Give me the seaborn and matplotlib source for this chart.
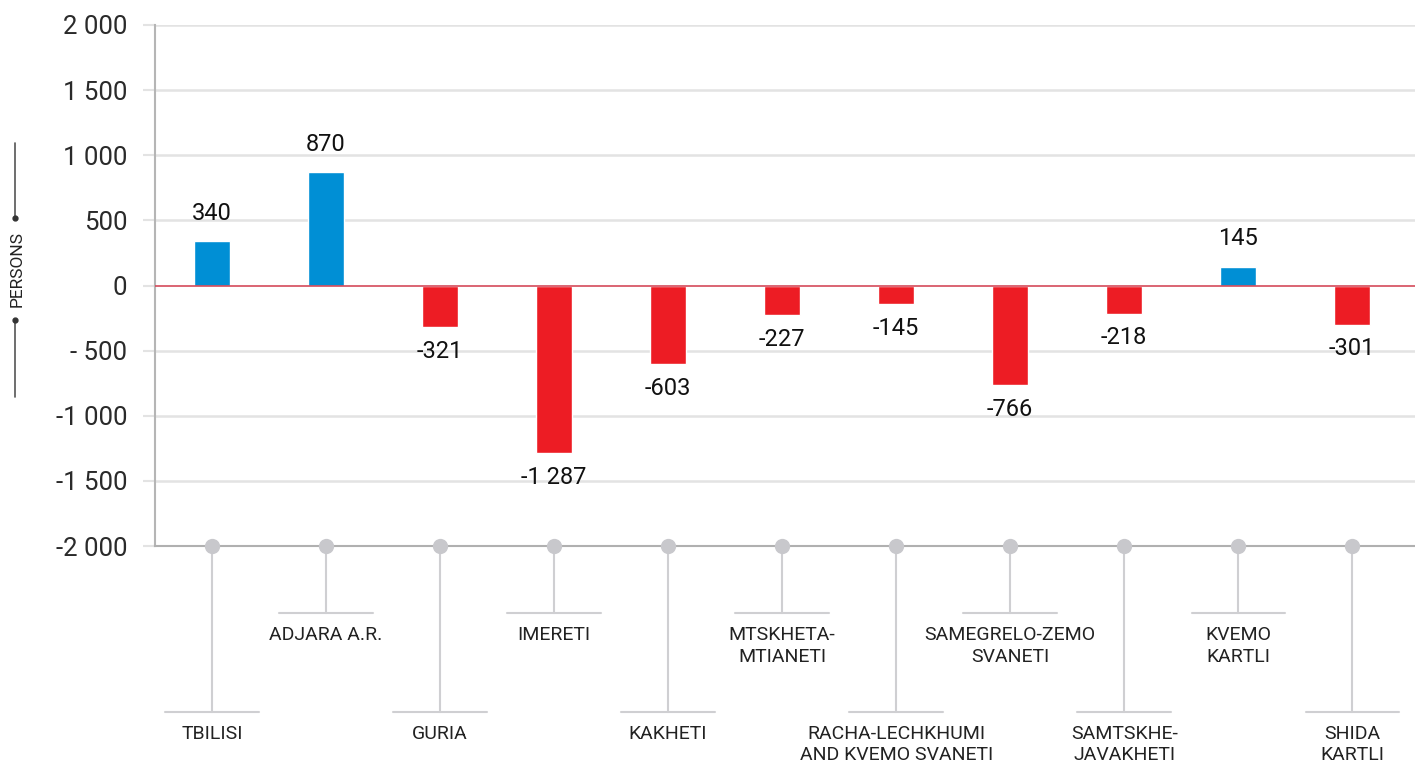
import matplotlib
matplotlib.use("Agg")
import matplotlib.pyplot as plt
from matplotlib.lines import Line2D
import seaborn as sns
import pandas as pd

categories = ["TBILISI", "ADJARA A.R.", "GURIA", "IMERETI", "KAKHETI",
              "MTSKHETA-\nMTIANETI", "RACHA-LECHKHUMI\nAND KVEMO SVANETI",
              "SAMEGRELO-ZEMO\nSVANETI", "SAMTSKHE-\nJAVAKHETI", "KVEMO\nKARTLI",
              "SHIDA\nKARTLI"]
values = [340, 870, -321, -1287, -603, -227, -145, -766, -218, 145, -301]
value_labels = ["340", "870", "-321", "-1 287", "-603", "-227", "-145", "-766", "-218", "145", "-301"]
yticks = [2000, 1500, 1000, 500, 0, -500, -1000, -1500, -2000]
ytick_labels = ["2 000", "1 500", "1 000", "500", "0", "- 500", "-1 000", "-1 500", "-2 000"]
axis_title = "PERSONS"

BLUE = "#008fd5"
RED = "#ed1c24"
GRID = "#e3e3e3"
CONN = "#cfcfd2"

sns.set_theme(style="white")
plt.rcParams['font.family'] = ['Roboto', 'DejaVu Sans']

W, H = 1415, 767
fig = plt.figure(figsize=(W / 100, H / 100), dpi=100)
ax = fig.add_axes([155 / W, 1 - 546 / H, 1 - 155 / W, (546 - 25) / H])

df = pd.DataFrame({"region": categories, "value": values})
palette = {c: (BLUE if v > 0 else RED) for c, v in zip(categories, values)}
sns.barplot(data=df, x="region", y="value", hue="region", palette=palette,
            legend=False, width=0.315, ax=ax, saturation=1, zorder=3)

ax.set_ylim(-2000, 2000)
ax.set_xlim(-0.5, len(categories) - 0.45)
ax.set_yticks(yticks)
ax.set_yticklabels(ytick_labels, fontsize=18.5, color="#2a2a2a")
ax.tick_params(axis="y", length=9, width=1.5, color=GRID, pad=11, left=True)
ax.set_xticks([])
ax.set_xlabel("")
ax.set_ylabel("")
for y in yticks:
    if y not in (0, -2000):
        ax.axhline(y, color=GRID, lw=1.8, zorder=0)
ax.axhline(0, color="#d44a5a", lw=1.2, zorder=4)

for s in ["top", "right"]:
    ax.spines[s].set_visible(False)
ax.spines["left"].set_color("#b5b5b5")
ax.spines["left"].set_linewidth(1.5)
ax.spines["bottom"].set_color("#b0b0b0")
ax.spines["bottom"].set_linewidth(1.5)

# value labels
for i, (v, lab) in enumerate(zip(values, value_labels)):
    if v >= 0:
        ax.annotate(lab, (i, v), xytext=(0, 12), textcoords="offset points",
                    ha="center", va="bottom", fontsize=17, color="#111111")
    else:
        ax.annotate(lab, (i, v), xytext=(0, -9), textcoords="offset points",
                    ha="center", va="top", fontsize=17, color="#111111")

# category connectors
tr = ax.get_xaxis_transform()
ah = 546 - 25
short_y = (546 - 613) / ah
long_y = (546 - 712) / ah
for i, cat in enumerate(categories):
    ly = long_y if i % 2 == 0 else short_y
    ax.add_line(Line2D([i, i], [0, ly], transform=tr, color=CONN, lw=1.5,
                       clip_on=False, zorder=2))
    ax.add_line(Line2D([i - 0.41, i + 0.41], [ly, ly], transform=tr, color=CONN,
                       lw=1.5, clip_on=False, zorder=2))
    ax.plot([i], [0], marker="o", markersize=11, color="#c8c8cc", transform=tr,
            clip_on=False, zorder=5, markeredgewidth=0)
    ax.text(i, ly - 13 / ah, cat, transform=tr, ha="center", va="top",
            fontsize=14, color="#222222", linespacing=1.25, multialignment="center")

# y-axis title with decorative lines
fig.text(17 / W, 1 - 269 / H, axis_title, rotation=90, ha="center", va="center",
         fontsize=12.5, color="#222222")
lx = 15 / W
fig.add_artist(Line2D([lx, lx], [1 - 143 / H, 1 - 218 / H], transform=fig.transFigure,
                      color="#555555", lw=1.2))
fig.add_artist(Line2D([lx, lx], [1 - 320 / H, 1 - 397 / H], transform=fig.transFigure,
                      color="#555555", lw=1.2))
fig.add_artist(Line2D([lx], [1 - 218 / H], transform=fig.transFigure, marker="o",
                      markersize=3.5, color="#333333", lw=0))
fig.add_artist(Line2D([lx], [1 - 320 / H], transform=fig.transFigure, marker="o",
                      markersize=3.5, color="#333333", lw=0))

fig.savefig("out.png", dpi=100, facecolor="white")
